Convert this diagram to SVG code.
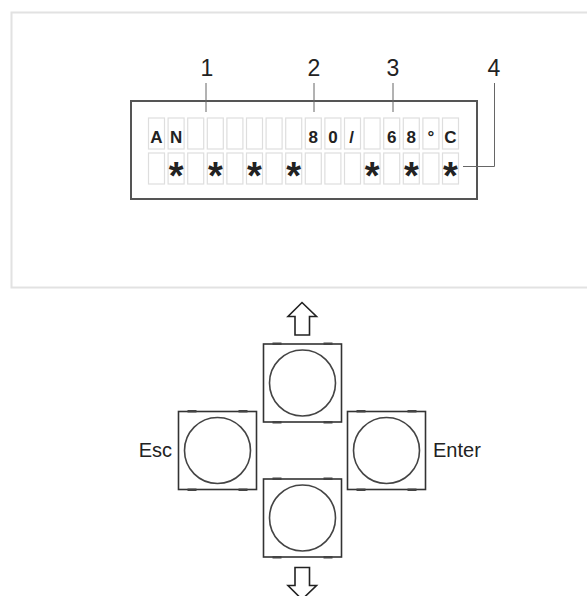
<svg xmlns="http://www.w3.org/2000/svg" width="587" height="596" viewBox="0 0 587 596">
<style>
.panel{fill:#fff;stroke:#e2e2e2;stroke-width:2}
.lcd{fill:none;stroke:#555;stroke-width:2}
.cell{fill:#fff;stroke:#dedede;stroke-width:1.2}
.ch{font-family:"Liberation Sans",Arial,sans-serif;font-weight:bold;font-size:17px;fill:#222;text-anchor:middle}
.st{font-family:"Liberation Sans",Arial,sans-serif;font-weight:bold;font-size:38px;fill:#222;text-anchor:middle}
.num{font-family:"Liberation Sans",Arial,sans-serif;font-size:23px;fill:#222;text-anchor:middle}
.lbl{font-family:"Liberation Sans",Arial,sans-serif;font-size:20px;fill:#222}
.lead{fill:none;stroke:#666;stroke-width:1}
.sq{fill:#fff;stroke:#333;stroke-width:1.6}
.ci{fill:none;stroke:#444;stroke-width:1.6}
.tab{fill:#444}
.arr{fill:#fff;stroke:#222;stroke-width:1.6;stroke-linejoin:miter}
</style>
<defs>
<g id="btn">
<rect class="sq" x="0" y="0" width="78" height="78"/>
<rect class="tab" x="9" y="-1.5" width="9" height="2.5"/>
<rect class="tab" x="60" y="-1.5" width="9" height="2.5"/>
<rect class="tab" x="9" y="77" width="9" height="2.5"/>
<rect class="tab" x="60" y="77" width="9" height="2.5"/>
<circle class="ci" cx="39" cy="39" r="33"/>
</g>
</defs>
<rect class="panel" x="11.5" y="12.5" width="590" height="275"/>
<g id="lcd">
<rect class="lcd" x="131" y="101" width="346" height="98"/>
<g id="cells">
<rect class="cell" x="148.5" y="118" width="16" height="31"/><rect class="cell" x="148.5" y="153" width="16" height="31"/>
<rect class="cell" x="168.1" y="118" width="16" height="31"/><rect class="cell" x="168.1" y="153" width="16" height="31"/>
<rect class="cell" x="187.7" y="118" width="16" height="31"/><rect class="cell" x="187.7" y="153" width="16" height="31"/>
<rect class="cell" x="207.3" y="118" width="16" height="31"/><rect class="cell" x="207.3" y="153" width="16" height="31"/>
<rect class="cell" x="226.9" y="118" width="16" height="31"/><rect class="cell" x="226.9" y="153" width="16" height="31"/>
<rect class="cell" x="246.5" y="118" width="16" height="31"/><rect class="cell" x="246.5" y="153" width="16" height="31"/>
<rect class="cell" x="266.1" y="118" width="16" height="31"/><rect class="cell" x="266.1" y="153" width="16" height="31"/>
<rect class="cell" x="285.7" y="118" width="16" height="31"/><rect class="cell" x="285.7" y="153" width="16" height="31"/>
<rect class="cell" x="305.3" y="118" width="16" height="31"/><rect class="cell" x="305.3" y="153" width="16" height="31"/>
<rect class="cell" x="324.9" y="118" width="16" height="31"/><rect class="cell" x="324.9" y="153" width="16" height="31"/>
<rect class="cell" x="344.5" y="118" width="16" height="31"/><rect class="cell" x="344.5" y="153" width="16" height="31"/>
<rect class="cell" x="364.1" y="118" width="16" height="31"/><rect class="cell" x="364.1" y="153" width="16" height="31"/>
<rect class="cell" x="383.7" y="118" width="16" height="31"/><rect class="cell" x="383.7" y="153" width="16" height="31"/>
<rect class="cell" x="403.3" y="118" width="16" height="31"/><rect class="cell" x="403.3" y="153" width="16" height="31"/>
<rect class="cell" x="422.9" y="118" width="16" height="31"/><rect class="cell" x="422.9" y="153" width="16" height="31"/>
<rect class="cell" x="442.5" y="118" width="16" height="31"/><rect class="cell" x="442.5" y="153" width="16" height="31"/>
</g>
<g id="row1">
<text class="ch" x="156.5" y="143">A</text>
<text class="ch" x="176.1" y="143">N</text>
<text class="ch" x="313.3" y="143">8</text>
<text class="ch" x="332.9" y="143">0</text>
<text class="ch" x="351.5" y="143">/</text>
<text class="ch" x="391.7" y="143">6</text>
<text class="ch" x="411.3" y="143">8</text>
<text class="ch" x="430.9" y="143">°</text>
<text class="ch" x="450.5" y="143">C</text>
</g>
<g id="row2">
<text class="st" x="176.1" y="189">*</text>
<text class="st" x="215.3" y="189">*</text>
<text class="st" x="254.5" y="189">*</text>
<text class="st" x="293.7" y="189">*</text>
<text class="st" x="372.1" y="189">*</text>
<text class="st" x="411.3" y="189">*</text>
<text class="st" x="450.5" y="189">*</text>
</g>
</g>
<g id="callouts">
<polyline class="lead" points="206,83 206,112"/>
<polyline class="lead" points="314,83 314,112"/>
<polyline class="lead" points="393,83 393,112"/>
<polyline class="lead" points="494.5,83 494.5,166.5 463,166.5"/>
<text class="num" x="207" y="76">1</text>
<text class="num" x="314" y="76">2</text>
<text class="num" x="393" y="76">3</text>
<text class="num" x="494" y="76">4</text>
</g>
<g id="btn-up"><use href="#btn" x="263.5" y="344"/></g>
<g id="btn-esc"><use href="#btn" x="178.5" y="411.5"/></g>
<g id="btn-enter"><use href="#btn" x="347.5" y="411.5"/></g>
<g id="btn-down"><use href="#btn" x="263.5" y="479"/></g>
<g id="arrow-up"><polygon class="arr" points="302,302.5 316.5,316.5 309.5,316.5 309.5,335 295,335 295,316.5 288,316.5"/></g>
<g id="arrow-down"><polygon class="arr" points="302,599.5 316.5,585.5 309.5,585.5 309.5,567.5 295,567.5 295,585.5 288,585.5"/></g>
<text class="lbl" x="172" y="457" text-anchor="end">Esc</text>
<text class="lbl" x="433" y="457">Enter</text>
</svg>
